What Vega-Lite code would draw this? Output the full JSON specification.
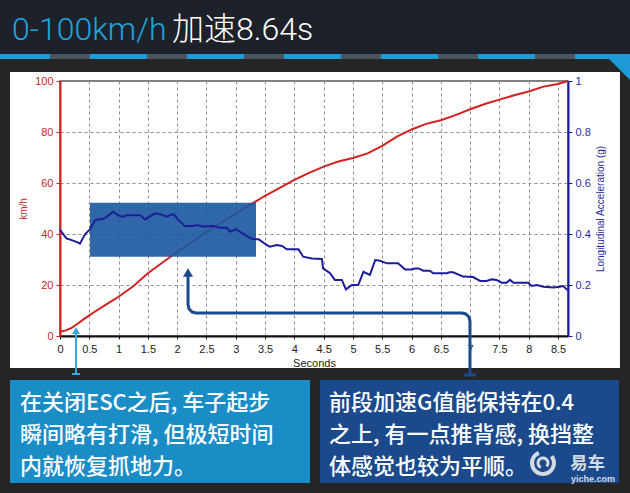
{
  "$schema": "https://vega.github.io/schema/vega-lite/v6.json",
  "width": 508,
  "height": 255,
  "autosize": {"type": "none"},
  "padding": {"left": 60, "top": 81, "right": 62, "bottom": 157},
  "background": "#ffffff",
  "config": {
    "view": {"stroke": "#555555", "strokeWidth": 1.5},
    "axis": {"labelFont": "Liberation Sans", "titleFont": "Liberation Sans", "labelOverlap": false, "labelFlush": false},
    "axisX": {"tickCount": 18, "format": ".1~f"},
    "axisLeft": {"format": ".0f"},
    "axisRight": {"format": ".1~f"}
  },
  "datasets": {
    "speed": [
      {"t": 0, "kmh": 1.7}, {"t": 0.1, "kmh": 2.2}, {"t": 0.2, "kmh": 3.2}, {"t": 0.3, "kmh": 4.8},
      {"t": 0.4, "kmh": 6.5}, {"t": 0.5, "kmh": 8.1}, {"t": 0.6, "kmh": 9.6}, {"t": 0.75, "kmh": 11.8},
      {"t": 0.9, "kmh": 14.0}, {"t": 1.0, "kmh": 15.4}, {"t": 1.25, "kmh": 19.5}, {"t": 1.5, "kmh": 24.6},
      {"t": 1.75, "kmh": 28.8}, {"t": 2.0, "kmh": 33.0}, {"t": 2.25, "kmh": 36.8}, {"t": 2.5, "kmh": 40.7},
      {"t": 2.75, "kmh": 44.5}, {"t": 3.0, "kmh": 48.0}, {"t": 3.25, "kmh": 51.5}, {"t": 3.5, "kmh": 55.0},
      {"t": 3.75, "kmh": 58.1}, {"t": 4.0, "kmh": 61.2}, {"t": 4.25, "kmh": 64.0}, {"t": 4.5, "kmh": 66.4},
      {"t": 4.75, "kmh": 68.4}, {"t": 5.0, "kmh": 69.8}, {"t": 5.25, "kmh": 71.6}, {"t": 5.5, "kmh": 74.6},
      {"t": 5.75, "kmh": 78.2}, {"t": 6.0, "kmh": 81.0}, {"t": 6.25, "kmh": 83.2}, {"t": 6.5, "kmh": 84.6},
      {"t": 6.75, "kmh": 86.6}, {"t": 7.0, "kmh": 88.9}, {"t": 7.25, "kmh": 91.0}, {"t": 7.5, "kmh": 92.7},
      {"t": 7.75, "kmh": 94.4}, {"t": 8.0, "kmh": 95.9}, {"t": 8.25, "kmh": 97.8}, {"t": 8.5, "kmh": 98.8},
      {"t": 8.67, "kmh": 100}
    ],
    "accel": [
      {"t": 0, "g": 0.416}, {"t": 0.11, "g": 0.383}, {"t": 0.2, "g": 0.376}, {"t": 0.31, "g": 0.366},
      {"t": 0.34, "g": 0.362}, {"t": 0.43, "g": 0.4}, {"t": 0.51, "g": 0.418}, {"t": 0.6, "g": 0.455},
      {"t": 0.74, "g": 0.46}, {"t": 0.8, "g": 0.468}, {"t": 0.91, "g": 0.487}, {"t": 1.0, "g": 0.472},
      {"t": 1.08, "g": 0.468}, {"t": 1.14, "g": 0.474}, {"t": 1.37, "g": 0.474}, {"t": 1.45, "g": 0.457},
      {"t": 1.62, "g": 0.481}, {"t": 1.71, "g": 0.478}, {"t": 1.82, "g": 0.468}, {"t": 1.88, "g": 0.474},
      {"t": 1.94, "g": 0.478}, {"t": 2.0, "g": 0.46}, {"t": 2.13, "g": 0.431}, {"t": 2.28, "g": 0.431},
      {"t": 2.33, "g": 0.435}, {"t": 2.45, "g": 0.429}, {"t": 2.62, "g": 0.431}, {"t": 2.73, "g": 0.425},
      {"t": 2.85, "g": 0.425}, {"t": 2.9, "g": 0.409}, {"t": 3.0, "g": 0.418}, {"t": 3.07, "g": 0.409},
      {"t": 3.21, "g": 0.389}, {"t": 3.3, "g": 0.379}, {"t": 3.39, "g": 0.379}, {"t": 3.53, "g": 0.357},
      {"t": 3.58, "g": 0.35}, {"t": 3.7, "g": 0.357}, {"t": 3.79, "g": 0.353}, {"t": 3.87, "g": 0.34},
      {"t": 4.07, "g": 0.34}, {"t": 4.15, "g": 0.311}, {"t": 4.3, "g": 0.304}, {"t": 4.47, "g": 0.302},
      {"t": 4.49, "g": 0.265}, {"t": 4.61, "g": 0.246}, {"t": 4.69, "g": 0.22}, {"t": 4.81, "g": 0.22},
      {"t": 4.88, "g": 0.183}, {"t": 4.98, "g": 0.2}, {"t": 5.09, "g": 0.2}, {"t": 5.18, "g": 0.252},
      {"t": 5.23, "g": 0.246}, {"t": 5.29, "g": 0.24}, {"t": 5.38, "g": 0.298}, {"t": 5.46, "g": 0.295},
      {"t": 5.58, "g": 0.285}, {"t": 5.77, "g": 0.285}, {"t": 5.89, "g": 0.261}, {"t": 6.0, "g": 0.261},
      {"t": 6.06, "g": 0.265}, {"t": 6.12, "g": 0.265}, {"t": 6.2, "g": 0.256}, {"t": 6.31, "g": 0.256},
      {"t": 6.37, "g": 0.246}, {"t": 6.6, "g": 0.246}, {"t": 6.65, "g": 0.25}, {"t": 6.71, "g": 0.25},
      {"t": 6.88, "g": 0.233}, {"t": 7.05, "g": 0.231}, {"t": 7.17, "g": 0.216}, {"t": 7.28, "g": 0.216},
      {"t": 7.37, "g": 0.222}, {"t": 7.45, "g": 0.22}, {"t": 7.54, "g": 0.209}, {"t": 7.62, "g": 0.209},
      {"t": 7.68, "g": 0.22}, {"t": 7.74, "g": 0.209}, {"t": 7.99, "g": 0.209}, {"t": 8.05, "g": 0.196},
      {"t": 8.14, "g": 0.2}, {"t": 8.25, "g": 0.193}, {"t": 8.42, "g": 0.19}, {"t": 8.53, "g": 0.193},
      {"t": 8.59, "g": 0.196}, {"t": 8.66, "g": 0.18}
    ],
    "arrowPath": [
      {"i": 0, "t": 6.997, "g": -0.153}, {"i": 1, "t": 6.997, "g": 0.0588}, {"i": 2, "t": 6.979, "g": 0.0745},
      {"i": 3, "t": 6.929, "g": 0.086}, {"i": 4, "t": 6.861, "g": 0.0902}, {"i": 5, "t": 2.321, "g": 0.0902},
      {"i": 6, "t": 2.253, "g": 0.0944}, {"i": 7, "t": 2.203, "g": 0.1059}, {"i": 8, "t": 2.185, "g": 0.1216},
      {"i": 9, "t": 2.185, "g": 0.235}
    ],
    "cornerWedge": [
      {"t": 9.353, "top": 109.02, "bottom": 109.02},
      {"t": 9.728, "top": 109.02, "bottom": 100.39}
    ]
  },
  "layer": [
    {
      "layer": [
        {
          "data": {"name": "speed"},
          "mark": {"type": "line", "color": "#d42020", "strokeWidth": 2},
          "encoding": {
            "x": {"field": "t", "type": "quantitative", "scale": {"domain": [0, 8.67], "nice": false, "zero": false},
                  "axis": {"title": "Seconds", "values": [0, 0.5, 1, 1.5, 2, 2.5, 3, 3.5, 4, 4.5, 5, 5.5, 6, 6.5, 7, 7.5, 8, 8.5], "tickCount": 18, "format": ".1~f",
                           "grid": true, "gridColor": "#8c8c8c", "gridDash": [3, 3], "gridWidth": 1,
                           "domainColor": "#111111", "domainWidth": 2, "tickColor": "#111111", "tickSize": 3, "labelPadding": 4,
                           "labelColor": "#222222", "labelFontSize": 11, "labelFlush": false, "labelOverlap": false,
                           "titleColor": "#222222", "titleFontSize": 11, "titleFontWeight": "normal", "titlePadding": 3}},
            "y": {"field": "kmh", "type": "quantitative", "scale": {"domain": [0, 100], "nice": false},
                  "axis": {"title": "km/h", "values": [0, 10, 20, 30, 40, 50, 60, 70, 80, 90, 100], "tickCount": 10, "format": ".0f",
                           "grid": true, "gridColor": "#8c8c8c", "gridDash": [3, 3], "gridWidth": 1,
                           "domainColor": "#d42020", "domainWidth": 2, "tickColor": "#d42020", "tickSize": 4, "labelPadding": 3,
                           "labelColor": "#c82828", "labelFontSize": 11, "labelOverlap": false, "labelFlush": false,
                           "titleColor": "#c82828", "titleFontSize": 10, "titleFontWeight": "normal", "titlePadding": 6}}
          }
        },
        {
          "data": {"values": [{}]},
          "mark": {"type": "rect", "color": "#1a56a0", "opacity": 0.9},
          "encoding": {"x": {"datum": 0.512}, "x2": {"datum": 3.345}, "y": {"datum": 31.1, "axis": {"values": [0, 10, 20, 30, 40, 50, 60, 70, 80, 90, 100], "tickCount": 10}}, "y2": {"datum": 52.3}}
        },
        {
          "data": {"values": [{}]},
          "mark": {"type": "rect", "color": "#252525"},
          "encoding": {"x": {"datum": -1.2}, "x2": {"datum": 9.9}, "y": {"datum": 103.53, "axis": {"values": [0, 10, 20, 30, 40, 50, 60, 70, 80, 90, 100], "tickCount": 10}}, "y2": {"datum": 140}}
        },
        {
          "data": {"values": [{}]},
          "mark": {"type": "rect", "color": "#1c212a"},
          "encoding": {"x": {"datum": -1.2}, "x2": {"datum": 9.9}, "y": {"datum": 110.59, "axis": {"values": [0, 10, 20, 30, 40, 50, 60, 70, 80, 90, 100], "tickCount": 10}}, "y2": {"datum": 140}}
        },
        {
          "data": {"values": [{}]},
          "mark": {"type": "rect", "color": "#252525"},
          "encoding": {"x": {"datum": -1.2}, "x2": {"datum": -0.853}, "y": {"datum": -70, "axis": {"values": [0, 10, 20, 30, 40, 50, 60, 70, 80, 90, 100], "tickCount": 10}}, "y2": {"datum": 103.53}}
        },
        {
          "data": {"values": [{}]},
          "mark": {"type": "rect", "color": "#252525"},
          "encoding": {"x": {"datum": 9.557}, "x2": {"datum": 9.9}, "y": {"datum": -70, "axis": {"values": [0, 10, 20, 30, 40, 50, 60, 70, 80, 90, 100], "tickCount": 10}}, "y2": {"datum": 103.53}}
        },
        {
          "data": {"values": [{}]},
          "mark": {"type": "rect", "color": "#252525"},
          "encoding": {"x": {"datum": -1.2}, "x2": {"datum": 9.9}, "y": {"datum": -70, "axis": {"values": [0, 10, 20, 30, 40, 50, 60, 70, 80, 90, 100], "tickCount": 10}}, "y2": {"datum": -12.55}}
        },
        {
          "data": {"values": [{}]},
          "mark": {"type": "rule", "color": "#4a5462", "strokeWidth": 5},
          "encoding": {"x": {"datum": -1.024}, "x2": {"datum": 9.728}, "y": {"datum": 109.61, "axis": {"values": [0, 10, 20, 30, 40, 50, 60, 70, 80, 90, 100], "tickCount": 10}}}
        },
        {
          "data": {"values": [{}]},
          "mark": {"type": "rule", "color": "#1c9bd8", "strokeWidth": 5, "strokeDash": [57, 40], "strokeDashOffset": 7},
          "encoding": {"x": {"datum": -1.024}, "x2": {"datum": 9.728}, "y": {"datum": 109.61, "axis": {"values": [0, 10, 20, 30, 40, 50, 60, 70, 80, 90, 100], "tickCount": 10}}}
        },
        {
          "data": {"name": "cornerWedge"},
          "mark": {"type": "area", "color": "#1c9bd8", "opacity": 1},
          "encoding": {"x": {"field": "t", "type": "quantitative"}, "y": {"field": "top", "type": "quantitative", "axis": {"values": [0, 10, 20, 30, 40, 50, 60, 70, 80, 90, 100], "tickCount": 10}}, "y2": {"field": "bottom"}}
        },
        {
          "data": {"values": [{}]},
          "mark": {"type": "rect", "color": "#1a8cc6"},
          "encoding": {"x": {"datum": -0.853}, "x2": {"datum": 4.267}, "y": {"datum": -17.25, "axis": {"values": [0, 10, 20, 30, 40, 50, 60, 70, 80, 90, 100], "tickCount": 10}}, "y2": {"datum": -57.65}}
        },
        {
          "data": {"values": [{}]},
          "mark": {"type": "rect", "color": "#1b4a8c"},
          "encoding": {"x": {"datum": 4.437}, "x2": {"datum": 9.54}, "y": {"datum": -17.25, "axis": {"values": [0, 10, 20, 30, 40, 50, 60, 70, 80, 90, 100], "tickCount": 10}}, "y2": {"datum": -57.65}}
        },
        {
          "data": {"values": [{}]},
          "mark": {"type": "text", "align": "left", "baseline": "alphabetic", "font": "Noto Sans CJK SC", "fontSize": 22, "fontWeight": 500, "color": "#ffffff", "text": "在关闭ESC之后, 车子起步"},
          "encoding": {"x": {"datum": -0.683}, "y": {"datum": -29.02, "axis": {"values": [0, 10, 20, 30, 40, 50, 60, 70, 80, 90, 100], "tickCount": 10}}}
        },
        {
          "data": {"values": [{}]},
          "mark": {"type": "text", "align": "left", "baseline": "alphabetic", "font": "Noto Sans CJK SC", "fontSize": 22, "fontWeight": 500, "color": "#ffffff", "text": "瞬间略有打滑, 但极短时间"},
          "encoding": {"x": {"datum": -0.683}, "y": {"datum": -41.49, "axis": {"values": [0, 10, 20, 30, 40, 50, 60, 70, 80, 90, 100], "tickCount": 10}}}
        },
        {
          "data": {"values": [{}]},
          "mark": {"type": "text", "align": "left", "baseline": "alphabetic", "font": "Noto Sans CJK SC", "fontSize": 22, "fontWeight": 500, "color": "#ffffff", "text": "内就恢复抓地力。"},
          "encoding": {"x": {"datum": -0.683}, "y": {"datum": -53.96, "axis": {"values": [0, 10, 20, 30, 40, 50, 60, 70, 80, 90, 100], "tickCount": 10}}}
        },
        {
          "data": {"values": [{}]},
          "mark": {"type": "text", "align": "left", "baseline": "alphabetic", "font": "Noto Sans CJK SC", "fontSize": 22, "fontWeight": 500, "color": "#ffffff", "text": "前段加速G值能保持在0.4"},
          "encoding": {"x": {"datum": 4.591}, "y": {"datum": -29.02, "axis": {"values": [0, 10, 20, 30, 40, 50, 60, 70, 80, 90, 100], "tickCount": 10}}}
        },
        {
          "data": {"values": [{}]},
          "mark": {"type": "text", "align": "left", "baseline": "alphabetic", "font": "Noto Sans CJK SC", "fontSize": 22, "fontWeight": 500, "color": "#ffffff", "text": "之上, 有一点推背感, 换挡整"},
          "encoding": {"x": {"datum": 4.591}, "y": {"datum": -41.49, "axis": {"values": [0, 10, 20, 30, 40, 50, 60, 70, 80, 90, 100], "tickCount": 10}}}
        },
        {
          "data": {"values": [{}]},
          "mark": {"type": "text", "align": "left", "baseline": "alphabetic", "font": "Noto Sans CJK SC", "fontSize": 22, "fontWeight": 500, "color": "#ffffff", "text": "体感觉也较为平顺。"},
          "encoding": {"x": {"datum": 4.591}, "y": {"datum": -53.96, "axis": {"values": [0, 10, 20, 30, 40, 50, 60, 70, 80, 90, 100], "tickCount": 10}}}
        },
        {
          "data": {"values": [{}]},
          "mark": {"type": "arc", "radius": 13, "radius2": 9, "theta": 0.9, "theta2": 5.9, "color": "#d6dbe3"},
          "encoding": {"x": {"datum": 8.243}, "y": {"datum": -49.8, "axis": {"values": [0, 10, 20, 30, 40, 50, 60, 70, 80, 90, 100], "tickCount": 10}}}
        },
        {
          "data": {"values": [{}]},
          "mark": {"type": "arc", "radius": 6.5, "radius2": 3.5, "theta": 3.6, "theta2": 8.6, "color": "#d6dbe3"},
          "encoding": {"x": {"datum": 8.243}, "y": {"datum": -49.8, "axis": {"values": [0, 10, 20, 30, 40, 50, 60, 70, 80, 90, 100], "tickCount": 10}}}
        },
        {
          "data": {"values": [{}]},
          "mark": {"type": "text", "align": "left", "baseline": "alphabetic", "font": "Noto Sans CJK SC", "fontSize": 17.5, "fontWeight": "bold", "color": "#d6dbe3", "text": "易车"},
          "encoding": {"x": {"datum": 8.704}, "y": {"datum": -52.2, "axis": {"values": [0, 10, 20, 30, 40, 50, 60, 70, 80, 90, 100], "tickCount": 10}}}
        },
        {
          "data": {"values": [{}]},
          "mark": {"type": "text", "align": "left", "baseline": "alphabetic", "font": "Liberation Sans", "fontSize": 9, "fontWeight": "bold", "color": "#d6dbe3", "text": "yiche.com"},
          "encoding": {"x": {"datum": 8.721}, "y": {"datum": -57.45, "axis": {"values": [0, 10, 20, 30, 40, 50, 60, 70, 80, 90, 100], "tickCount": 10}}}
        },
        {
          "data": {"values": [{}]},
          "mark": {"type": "text", "align": "left", "baseline": "alphabetic", "font": "Roboto, Noto Sans CJK SC", "fontSize": 32, "fontWeight": 300, "color": "#1ea3de", "text": "0-100km/h"},
          "encoding": {"x": {"datum": -0.819}, "y": {"datum": 116.08, "axis": {"values": [0, 10, 20, 30, 40, 50, 60, 70, 80, 90, 100], "tickCount": 10}}}
        },
        {
          "data": {"values": [{}]},
          "mark": {"type": "text", "align": "left", "baseline": "alphabetic", "font": "Roboto, Noto Sans CJK SC", "fontSize": 32, "fontWeight": 300, "color": "#ffffff", "text": "加速8.64s"},
          "encoding": {"x": {"datum": 1.911}, "y": {"datum": 116.08, "axis": {"values": [0, 10, 20, 30, 40, 50, 60, 70, 80, 90, 100], "tickCount": 10}}}
        }
      ]
    },
    {
      "layer": [
        {
          "data": {"name": "accel"},
          "mark": {"type": "line", "color": "#1c1c9c", "strokeWidth": 2},
          "encoding": {
            "x": {"field": "t", "type": "quantitative"},
            "y": {"field": "g", "type": "quantitative", "scale": {"domain": [0, 1], "nice": false},
                  "axis": {"orient": "right", "title": "Longitudinal Acceleration (g)", "values": [0, 0.1, 0.2, 0.3, 0.4, 0.5, 0.6, 0.7, 0.8, 0.9, 1], "tickCount": 10, "format": ".1~f",
                           "grid": false, "domainColor": "#1a1aa0", "domainWidth": 2, "tickColor": "#1a1aa0", "tickSize": 4, "labelPadding": 3,
                           "labelColor": "#2a2aa0", "labelFontSize": 11, "labelOverlap": false, "labelFlush": false,
                           "titleColor": "#2a2aa0", "titleFontSize": 10, "titleFontWeight": "normal", "titleAngle": 270, "titleBaseline": "top", "titlePadding": 5}}
          }
        },
        {
          "data": {"values": [{}]},
          "mark": {"type": "rule", "color": "#3aa6dc", "strokeWidth": 2},
          "encoding": {"x": {"datum": 0.273}, "y": {"datum": -0.149, "axis": {"values": [0, 0.1, 0.2, 0.3, 0.4, 0.5, 0.6, 0.7, 0.8, 0.9, 1], "tickCount": 10}}, "y2": {"datum": 0.016}}
        },
        {
          "data": {"values": [{}]},
          "mark": {"type": "point", "shape": "triangle-up", "size": 64, "filled": true, "color": "#3aa6dc", "opacity": 1},
          "encoding": {"x": {"datum": 0.273}, "y": {"datum": 0.0216, "axis": {"values": [0, 0.1, 0.2, 0.3, 0.4, 0.5, 0.6, 0.7, 0.8, 0.9, 1], "tickCount": 10}}}
        },
        {
          "data": {"values": [{}]},
          "mark": {"type": "point", "shape": "stroke", "size": 64, "strokeWidth": 2, "color": "#3aa6dc", "opacity": 1},
          "encoding": {"x": {"datum": 0.273}, "y": {"datum": -0.149, "axis": {"values": [0, 0.1, 0.2, 0.3, 0.4, 0.5, 0.6, 0.7, 0.8, 0.9, 1], "tickCount": 10}}}
        },
        {
          "data": {"name": "arrowPath"},
          "mark": {"type": "line", "color": "#1b4a8c", "strokeWidth": 3, "strokeJoin": "round"},
          "encoding": {
            "x": {"field": "t", "type": "quantitative"},
            "y": {"field": "g", "type": "quantitative", "axis": {"values": [0, 0.1, 0.2, 0.3, 0.4, 0.5, 0.6, 0.7, 0.8, 0.9, 1], "tickCount": 10}},
            "order": {"field": "i", "type": "quantitative"}
          }
        },
        {
          "data": {"values": [{}]},
          "mark": {"type": "point", "shape": "triangle-up", "size": 100, "filled": true, "color": "#1b4a8c", "opacity": 1},
          "encoding": {"x": {"datum": 2.185}, "y": {"datum": 0.249, "axis": {"values": [0, 0.1, 0.2, 0.3, 0.4, 0.5, 0.6, 0.7, 0.8, 0.9, 1], "tickCount": 10}}}
        },
        {
          "data": {"values": [{}]},
          "mark": {"type": "point", "shape": "stroke", "size": 144, "strokeWidth": 3, "color": "#1b4a8c", "opacity": 1},
          "encoding": {"x": {"datum": 6.997}, "y": {"datum": -0.153, "axis": {"values": [0, 0.1, 0.2, 0.3, 0.4, 0.5, 0.6, 0.7, 0.8, 0.9, 1], "tickCount": 10}}}
        }
      ]
    }
  ],
  "resolve": {"scale": {"y": "independent"}}
}
